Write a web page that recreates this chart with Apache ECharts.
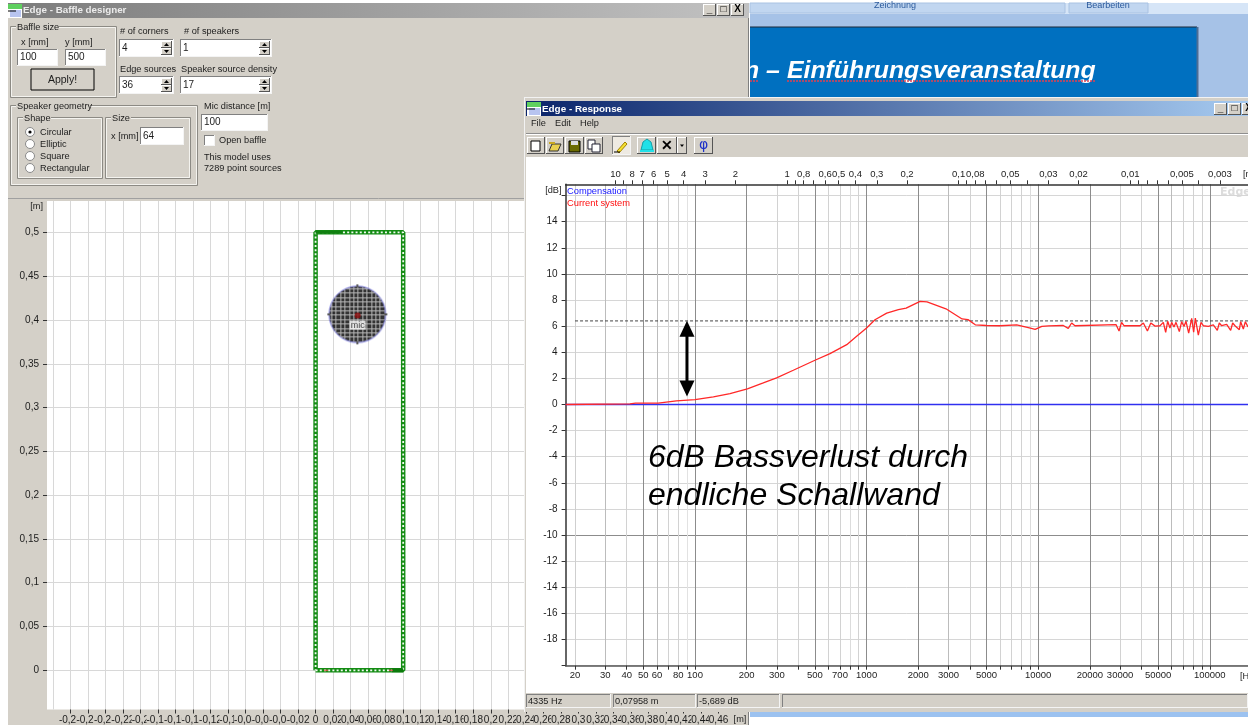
<!DOCTYPE html>
<html><head><meta charset="utf-8">
<style>html,body{margin:0;padding:0;background:#fff}#main{width:1248px;height:725px}</style>
<script src="https://cdn.jsdelivr.net/npm/echarts@6/dist/echarts.min.js"></script>
</head><body><div id="main"></div>
<script>
// ---------- response chart data ----------
const freqGridTicks=[20,30,40,50,60,70,80,90,100,200,300,400,500,600,700,800,900,1000,2000,3000,4000,5000,6000,7000,8000,9000,10000,20000,30000,40000,50000,60000,70000,80000,90000,100000];
const freqLabels=[20,30,40,50,60,80,100,200,300,500,700,1000,2000,3000,5000,10000,20000,30000,50000,100000];
const waveTicks=[10,9,8,7,6,5,4,3,2,1,0.9,0.8,0.7,0.6,0.5,0.4,0.3,0.2,0.1,0.09,0.08,0.07,0.06,0.05,0.04,0.03,0.02,0.01,0.009,0.008,0.007,0.006,0.005,0.004,0.003];
const waveLabels=[10,8,7,6,5,4,3,2,1,0.8,0.6,0.5,0.4,0.3,0.2,0.1,0.08,0.05,0.03,0.02,0.01,0.005,0.003];
const dbTicks=[-20,-18,-16,-14,-12,-10,-8,-6,-4,-2,0,2,4,6,8,10,12,14,16];
const dbLabels=[-18,-16,-14,-12,-10,-8,-6,-4,-2,0,2,4,6,8,10,12,14];
const compensation=[[17.62,0],[166950,0]];
const referenceLevel=[[20,6.4],[166950,6.4]];
const bassLossArrow=[[89.8,5.8],[89.8,1.22]];
const currentSystem=[[17.62,0],[41.8,0.05],[45,0.1],[61,0.1],[62.5,0.2],[78,0.28],[100,0.38],[128,0.59],[160,0.84],[202,1.2],[250,1.65],[299,2.04],[374,2.62],[500,3.39],[612,3.9],[766,4.58],[875,5.22],[1000,5.86],[1119,6.49],[1310,7.0],[1532,7.26],[1700,7.38],[2050,7.9],[2250,7.85],[2900,7.33],[3600,6.55],[3900,6.5],[4300,6.1],[5000,6.05],[6000,6.03],[7500,6.1],[9000,5.85],[9600,5.75],[10500,5.98],[11500,6.02],[14000,6.05],[14970,5.83],[15660,6.24],[16380,6.03],[28400,6.12],[29580,5.63],[30600,6.29],[31620,6.03],[39200,6.03],[41000,6.24],[43300,5.63],[45300,6.24],[48000,6.0],[51260,6.03],[53600,6.29],[55320,5.53],[56810,6.37],[58610,5.86],[59940,6.29],[61850,5.93],[63530,6.29],[66440,5.58],[68550,6.34],[70730,5.98],[72650,6.37],[75320,5.47],[78420,6.6],[80530,5.53],[82350,6.62],[85740,5.32],[88850,6.29],[91700,6.03],[98040,5.98],[104850,6.09],[110600,5.68],[113600,6.24],[117250,6.03],[125400,6.14],[132300,5.68],[135900,6.24],[140250,6.03],[148600,5.73],[151300,6.34],[156800,5.78],[161100,6.34],[166900,5.93]];
// ---------- baffle chart data ----------
const baffleXTicks=[-0.3,-0.28,-0.26,-0.24,-0.22,-0.2,-0.18,-0.16,-0.14,-0.12,-0.1,-0.08,-0.06,-0.04,-0.02,0,0.02,0.04,0.06,0.08,0.1,0.12,0.14,0.16,0.18,0.2,0.22,0.24,0.26,0.28,0.3,0.32,0.34,0.36,0.38,0.4,0.42,0.44,0.46,0.48];
const baffleYTicks=[0,0.05,0.1,0.15,0.2,0.25,0.3,0.35,0.4,0.45,0.5];
const baffleOutline=[[0,0],[0.1,0],[0.1,0.5],[0,0.5],[0,0]];
const solidTopEdge=[[0,0.5],[0.03,0.5]];
const solidBottomEdge=[[0.087,0],[0.1,0]];
const redEdgeMarks=[[0.012,0],[0.086,0]];
const speakerCentre=[[0.0477,0.4064]];
const micPosition=[[0.048,0.405]];

// ---------- speaker mesh texture ----------
function meshImage(){
  const c=document.createElement('canvas');c.width=c.height=64;const k=c.getContext('2d');
  k.save();k.beginPath();k.arc(32,32,28,0,Math.PI*2);k.clip();
  k.fillStyle='#000';k.fillRect(0,0,64,64);
  k.fillStyle='#a4a4a4';
  for(let i=0;i<15;i++){const p=Math.round(1.5+i*4.4);k.fillRect(p,0,1,64);k.fillRect(0,p,64,1);}
  k.restore();
  k.strokeStyle='#3a3ad0';k.lineWidth=.8;k.beginPath();k.arc(32,32,28.3,0,Math.PI*2);k.stroke();
  k.fillStyle='#333';[[31,2,2,3],[31,59,2,3],[2,31,3,2],[59,31,3,2]].forEach(r=>k.fillRect(r[0],r[1],r[2],r[3]));
  return 'image://'+c.toDataURL();
}

// ---------- window chrome ----------
const UI='"Liberation Sans",Arial,sans-serif', PANEL='#d4d0c8', INK='#1c1c1c';
const g=[];
let Z=-1;
function R(x,y,w,h,fill,stroke,lw){g.push({type:'rect',silent:true,z:Z,shape:{x,y,width:w,height:h},style:{fill:fill||'none',stroke:stroke||null,lineWidth:lw||1}});}
function T(x,y,text,o){o=o||{};g.push({type:'text',silent:true,z:Z,style:{x,y,text,font:o.font||('9.2px '+UI),fill:o.fill||INK,align:o.align||'left',verticalAlign:'middle',textAlign:o.align||'left',textVerticalAlign:'middle'}});}
function P(points,fill,stroke){g.push({type:'polygon',silent:true,z:Z,shape:{points},style:{fill:fill||'none',stroke:stroke||null,lineWidth:1}});}
function L(x1,y1,x2,y2,c,lw,dash){g.push({type:'line',silent:true,z:Z,shape:{x1,y1,x2,y2},style:{stroke:c,lineWidth:lw||1,lineDash:dash||null}});}
function C(x,y,r,fill,stroke){g.push({type:'circle',silent:true,z:Z,shape:{cx:x,cy:y,r},style:{fill,stroke:stroke||null,lineWidth:1}});}
function sunken(x,y,w,h,fill){R(x,y,w,h,fill||'#fff');L(x,y+.5,x+w,y+.5,'#808080');L(x+.5,y,x+.5,y+h,'#808080');L(x,y+h-.5,x+w,y+h-.5,'#f4f4f4');L(x+w-.5,y,x+w-.5,y+h,'#f4f4f4');}
function raised(x,y,w,h,fill){R(x,y,w,h,fill||PANEL);L(x,y+.5,x+w,y+.5,'#fff');L(x+.5,y,x+.5,y+h,'#fff');L(x,y+h-.5,x+w,y+h-.5,'#555');L(x+w-.5,y,x+w-.5,y+h,'#555');}
function input(x,y,w,h,t){sunken(x,y,w,h);T(x+3,y+h/2,t,{font:'10px '+UI});}
function spin(x,y,w,h,t){input(x,y,w,h,t);const sx=x+w-13;raised(sx,y+2,11,(h-4)/2);raised(sx,y+h/2,11,(h-4)/2);P([[sx+5.5,y+4],[sx+3,y+7],[sx+8,y+7]],'#000');P([[sx+5.5,y+h-4],[sx+3,y+h-7],[sx+8,y+h-7]],'#000');}
function groupBox(x,y,w,h,t,lx,lw){R(x+.5,y+.5,w,h,null,'#8c8a84');R(x+1.5,y+1.5,w-2,h-2,null,'#f4f3ef');R(lx-1,y-4,lw,9,PANEL);T(lx,y+1,t);}
function radio(x,y,t,on){C(x,y,4.5,'#fff','#8a8a8a');if(on)C(x,y,1.6,'#000');T(x+10,y,t);}
function capBtns(x,y,w,g2){['_','\u25a1','X'].forEach((s,i)=>{raised(x+i*(w+g2),y,w,12);T(x+i*(w+g2)+w/2,y+5.5,s,{align:'center',font:'bold 10px '+UI,fill:'#000'});});}
function appIcon(x,y){R(x,y,14,14,'#fff');R(x,y,14,5,'#5fd05f');R(x+2,y+6,11,7,'#b8c4f0');L(x,y+7,x+8,y+7,'#000',1);}

// desktop behind the windows
R(750,3,498,95,'#a6c2e7');R(750,3,498,11,'#d6e5f7');
R(750,3,315,10,'#c1d6f0','#a9c2e2');R(1069,3,79,10,'#c1d6f0','#a9c2e2');
T(895,6,'Zeichnung',{fill:'#2b5a9c',align:'center',font:'9px '+UI});T(1108,6,'Bearbeiten',{fill:'#2b5a9c',align:'center',font:'9px '+UI});
R(750,27,447,72,'#0070c0');L(750,27,1197,27,'#1d2b3a',1);L(1197.5,27,1197.5,99,'#4d6d94',2);
T(744,71,'n \u2013 ',{fill:'#fff',font:'bold italic 24.8px '+UI});
T(787,71,'Einf\u00fchrungsveranstaltung',{fill:'#fff',font:'bold italic 24.8px '+UI});
L(787,81,1095,81,'#e04050',1.5,[2,1]);L(750,81,758,81,'#e04050',1.5,[2,1]);

// baffle designer window
R(8,3,741,722,PANEL);L(748.5,3,748.5,725,'#7f7f7f',1);
R(8,3,741,15,{type:'linear',x:0,y:0,x2:1,y2:0,colorStops:[{offset:0,color:'#7c7c7c'},{offset:1,color:'#c2c2c2'}]});
appIcon(8,4);T(23,10,'Edge - Baffle designer',{fill:'#ececec',font:'bold 9.8px '+UI});
capBtns(703,4,13,1);
groupBox(10,26,106,71,'Baffle size',17,43);
T(21,42,'x [mm]');T(65,42,'y [mm]');input(17,49,41,17,'100');input(65,49,41,17,'500');
R(31,69,63,21,PANEL,'#000',1);T(62.5,80,'Apply!',{align:'center',font:'10.5px '+UI});
T(120,31,'# of corners');T(184,31,'# of speakers');spin(119,39,55,18,'4');spin(180,39,92,18,'1');
T(120,69,'Edge sources');T(181,69,'Speaker source density');spin(119,76,55,18,'36');spin(180,76,92,18,'17');
groupBox(10,105,187,80,'Speaker geometry',17,74);
groupBox(17,117,85,61,'Shape',24,28);groupBox(105,117,85,61,'Size',112,20);
radio(30,132,'Circular',true);radio(30,144,'Elliptic');radio(30,156,'Square');radio(30,168,'Rectangular');
T(111,136,'x [mm]');input(140,127,44,18,'64');
T(204,106,'Mic distance [m]');input(201,114,67,17,'100');
sunken(204,135,11,11);T(219,140,'Open baffle');T(204,157,'This model uses');T(204,168,'7289 point sources');
L(8,198.5,749,198.5,'#a0a0a0',1);
T(43,206,'[m]',{align:'right'});T(740,719.5,'[m]',{align:'center'});
R(750,712,498,13,'#fff');R(750,712,498,5,'#9cc2f0');

// response window (covers the right part of the baffle chart)
Z=5;
R(524,97,724,615,PANEL);L(524.5,97,524.5,712,'#f2f2f2',1);L(524,97.5,1248,97.5,'#f2f2f2',1);
R(526,101,722,15,{type:'linear',x:0,y:0,x2:1,y2:0,colorStops:[{offset:0,color:'#0a246a'},{offset:1,color:'#a6caf0'}]});
appIcon(527,102);T(542,109,'Edge - Response',{fill:'#fff',font:'bold 9.9px '+UI});
capBtns(1214,103,13,1);
T(531,123.5,'File');T(555,123.5,'Edit');T(580,123.5,'Help');
L(526,133.5,1248,133.5,'#8e8e8e',1);L(526,134.5,1248,134.5,'#fff',1);
[[527,18],[546,18],[565,19],[585,18],[637,19],[657,20],[677,10],[694,19]].forEach(b=>raised(b[0],137,b[1],17));
sunken(612,136,19,19,'#eeeae2');
R(531,141,9,10,'#fff','#000');
P([[549,151],[552,144],[561,144],[558,151]],'#e8d050','#333');R(549,142,6,2,'#c8a820');
R(569,141,11,11,'#6b6b00','#000');R(571,141,7,4,'#ddd');
R(588,140,7,9,'#fff','#223');R(592,144,8,8,'#fff','#223');
P([[617,151],[625,142],[627,144],[619,153]],'#f5e030','#a08000');L(614,152,620,152,'#000',1);
P([[641,150],[643,142],[647,139],[651,142],[653,150]],'#22e0e8','#14a0a8');R(640,150,14,2,'#22e0e8');
T(667,146,'\u2715',{font:'bold 14px '+UI,fill:'#000',align:'center'});
P([[680,144.5],[684,144.5],[682,147]],'#000');
T(703.5,145.5,'\u03c6',{font:'14px "DejaVu Sans"',fill:'#1c30c8',align:'center'});
R(526,157,722,536,'#fff');
T(561.5,190,'[dB]',{align:'right'});
T(1243,174,'[m',{});T(1240,676,'[Hz',{});
T(1220,192,'Edge',{fill:'#dcdcdc',font:'bold 11px "DejaVu Sans"'});
sunken(526,694,85,14,PANEL);sunken(613,694,83,14,PANEL);sunken(697,694,83,14,PANEL);sunken(782,694,466,14,PANEL);
T(528,701,'4335 Hz');T(615,701,'0,07958 m');T(699,701,'-5,689 dB');

// annotation
Z=20;
T(648,458,'6dB Bassverlust durch',{font:'italic 32px '+UI,fill:'#000'});
T(648,496,'endliche Schallwand',{font:'italic 32px '+UI,fill:'#000'});

const comma=v=>String(v).replace('.',',');
const plain=v=>String(v);
const SOFT='#d2d2d2',MID='#bcbcbc',DARK='#8c8c8c';
const freqLineColors=['#cfcfcf',MID,SOFT,DARK,MID,SOFT,SOFT,'#e2e2e2',DARK,DARK,SOFT,SOFT,DARK,SOFT,SOFT,'#dcdcdc',SOFT,DARK,DARK,MID,SOFT,DARK,SOFT,SOFT,SOFT,'#dcdcdc',DARK,DARK,SOFT,SOFT,DARK,MID,SOFT,SOFT,SOFT,DARK];
const dbLineColors=dbTicks.map(v=>(v===10||v===-10||v===0)?DARK:'#d6d6d6');
const fMin=17.62,fMax=166950,C0=344;

const option={
  animation:false,
  backgroundColor:'#fff',
  graphic:{elements:g},
  legend:{z:30,left:562,top:187,orient:'vertical',itemWidth:0,itemHeight:0,itemGap:3,padding:0,selectedMode:false,
    textStyle:{fontFamily:UI,fontSize:9.3,padding:[0,0,0,0]},
    data:[{name:'Compensation',icon:'none',textStyle:{color:'#1818ff'}},{name:'Current system',icon:'none',textStyle:{color:'#ff1010'}}]},
  grid:[
    {left:47,top:201,width:698,height:510,show:true,backgroundColor:'#fff',borderWidth:0},
    {left:565.6,top:184.3,width:682.4,height:481.4,show:false}
  ],
  xAxis:[
    {gridIndex:0,type:'value',min:-0.3066,max:0.4902,z:0,
     axisLine:{show:false,onZero:false},
     axisTick:{customValues:baffleXTicks,length:4,lineStyle:{color:'#333'}},
     // the end ticks -0,3 and 0,48 carry no label in the reference
     axisLabel:{customValues:baffleXTicks,formatter:comma,margin:5.5,fontFamily:UI,fontSize:10,color:INK,backgroundColor:PANEL,hideOverlap:false,showMinLabel:false,showMaxLabel:false},
     splitLine:{show:true,lineStyle:{color:'#d8d8d8',width:1}}},
    {gridIndex:1,type:'log',min:fMin,max:fMax,position:'bottom',z:10,
     axisLine:{show:true,onZero:false,lineStyle:{color:'#555',width:1.5}},
     axisTick:{customValues:freqGridTicks,length:4,lineStyle:{color:'#333'}},
     axisLabel:{customValues:freqLabels,formatter:plain,margin:5,fontFamily:UI,fontSize:9.5,color:INK,hideOverlap:false,showMinLabel:true,showMaxLabel:true},
     splitLine:{show:true,lineStyle:{color:freqLineColors,width:1}},minorTick:{show:false},minorSplitLine:{show:false}},
    {gridIndex:1,type:'log',inverse:true,min:C0/fMax,max:C0/fMin,position:'top',z:10,
     axisLine:{show:true,onZero:false,lineStyle:{color:'#333',width:1.5}},
     axisTick:{customValues:waveTicks,length:4,lineStyle:{color:'#333'}},
     axisLabel:{customValues:waveLabels,formatter:comma,margin:5,fontFamily:UI,fontSize:9.5,color:INK,hideOverlap:false,showMinLabel:true,showMaxLabel:true},
     splitLine:{show:false}}
  ],
  yAxis:[
    {gridIndex:0,type:'value',min:-0.0447,max:0.5358,z:0,
     axisLine:{show:false,onZero:false},
     axisTick:{customValues:baffleYTicks,length:4,lineStyle:{color:'#333'}},
     axisLabel:{customValues:baffleYTicks,formatter:comma,margin:8,fontFamily:UI,fontSize:10,color:INK,padding:[3,0,0,0],showMinLabel:true,showMaxLabel:true},
     splitLine:{show:true,lineStyle:{color:'#d8d8d8',width:1}}},
    {gridIndex:1,type:'value',min:-20,max:16.86,z:10,
     axisLine:{show:true,onZero:false,lineStyle:{color:'#333',width:1.5}},
     axisTick:{customValues:dbTicks,length:4,lineStyle:{color:'#333'}},
     axisLabel:{customValues:dbLabels,margin:8,fontFamily:UI,fontSize:10,color:INK,padding:[2,0,0,0],showMinLabel:true,showMaxLabel:true},
     splitLine:{show:true,lineStyle:{color:dbLineColors,width:1}}}
  ],
  series:[
    {name:'Baffle',type:'line',xAxisIndex:0,yAxisIndex:0,z:2,data:baffleOutline,symbol:'none',lineStyle:{color:'#148c14',width:4.5},silent:true},
    {name:'Edge sources',type:'line',xAxisIndex:0,yAxisIndex:0,z:3,data:baffleOutline,symbol:'none',lineStyle:{color:'#f4fbf4',width:1.8,type:[2,2.2]},silent:true},
    {name:'Solid top',type:'line',xAxisIndex:0,yAxisIndex:0,z:3,data:solidTopEdge,symbol:'none',lineStyle:{color:'#118011',width:3},silent:true},
    {name:'Solid bottom',type:'line',xAxisIndex:0,yAxisIndex:0,z:3,data:solidBottomEdge,symbol:'none',lineStyle:{color:'#0c7a0c',width:4},silent:true},
    {name:'Edge marks',type:'scatter',xAxisIndex:0,yAxisIndex:0,z:4,data:redEdgeMarks,symbol:'rect',symbolSize:[4,1.5],itemStyle:{color:'#e05050'},silent:true},
    {name:'Speaker',type:'scatter',xAxisIndex:0,yAxisIndex:0,z:3,data:speakerCentre,symbol:meshImage(),symbolSize:64,silent:true},
    {name:'Mic',type:'scatter',xAxisIndex:0,yAxisIndex:0,z:4,data:micPosition,symbol:'circle',symbolSize:6,itemStyle:{color:'#8c0a0a'},silent:true,
     label:{show:true,position:'bottom',distance:2,formatter:'mic',fontFamily:UI,fontSize:9,color:'#222',backgroundColor:'#fff',padding:[0,1]}},
    {name:'Compensation',type:'line',xAxisIndex:1,yAxisIndex:1,z:11,data:compensation,symbol:'none',lineStyle:{color:'#3030f0',width:1.3},silent:true},
    {name:'Level',type:'line',xAxisIndex:1,yAxisIndex:1,z:11,data:referenceLevel,symbol:'none',lineStyle:{color:'#444',width:1,type:[3,2]},silent:true},
    {name:'Current system',type:'line',xAxisIndex:1,yAxisIndex:1,z:12,data:currentSystem,symbol:'none',lineStyle:{color:'#ff2828',width:1.3},silent:true},
    {name:'Bass loss',type:'line',xAxisIndex:1,yAxisIndex:1,z:18,silent:true,lineStyle:{color:'#000',width:3},
     symbolSize:[15,16],
     data:[{value:bassLossArrow[0],symbol:'triangle',symbolRotate:0},{value:bassLossArrow[1],symbol:'triangle',symbolRotate:180}],
     itemStyle:{color:'#000'}}
  ]
};
const chart=echarts.init(document.getElementById('main'),null,{renderer:'canvas'});
chart.setOption(option);
</script></body></html>
